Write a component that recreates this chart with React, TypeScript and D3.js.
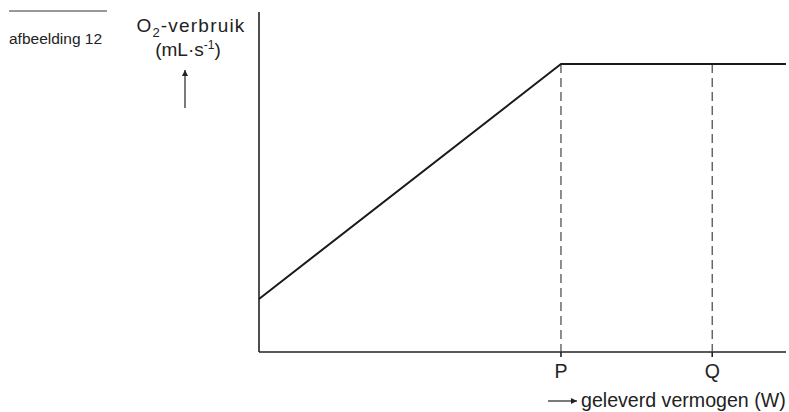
import React from 'react';
import * as d3 from 'd3';

// curve: O2 uptake rises linearly with power until P, then plateaus
const curveX = [0, 57.3, 100];
const curveY = [15.6, 84.7, 84.7];
const markerNames = ['P', 'Q'];
const markerX = [57.3, 86];

const W = 789;
const H = 412;
const margin = { top: 12, right: 3, bottom: 60, left: 259 };
const font = '"Liberation Sans", Arial, sans-serif';

export default function App() {
  const x = d3.scaleLinear().domain([0, 100]).range([margin.left, W - margin.right]);
  const y = d3.scaleLinear().domain([0, 100]).range([H - margin.bottom, margin.top]);
  const pts: [number, number][] = curveX.map((v, i) => [v, curveY[i]]);
  const line = d3
    .line<[number, number]>()
    .x((d) => x(d[0]))
    .y((d) => y(d[1]));
  const y0 = y(0);
  const plateau = y(curveY[1]);

  return (
    <svg
      width={W}
      height={H}
      style={{ position: 'absolute', left: 0, top: 0, display: 'block' }}
      fontFamily={font}
    >
      <defs>
        <marker id="ah" viewBox="0 0 10 10" refX="10" refY="5" markerWidth="9" markerHeight="6" orient="auto" markerUnits="userSpaceOnUse">
          <path d="M0,0 L10,5 L0,10 Z" fill="#222" />
        </marker>
      </defs>

      {/* caption */}
      <line x1={9} x2={107} y1={11} y2={11} stroke="#333" strokeWidth={1} />
      <text x={9} y={44} fontSize={15.5} fill="#222">afbeelding 12</text>

      {/* y label */}
      <text x={191} y={32} fontSize={19} textAnchor="middle" fill="#222" letterSpacing={1.2}>
        O<tspan fontSize={13} dy={5}>2</tspan>
        <tspan dy={-5}>-verbruik</tspan>
      </text>
      <text x={188} y={56} fontSize={19} textAnchor="middle" fill="#222">
        (mL·s<tspan fontSize={12} dy={-7}>-1</tspan>
        <tspan dy={7}>)</tspan>
      </text>
      <line x1={185} x2={185} y1={108} y2={70} stroke="#222" strokeWidth={1.2} markerEnd="url(#ah)" />

      {/* axes */}
      <line x1={x(0)} x2={x(0)} y1={y(100)} y2={y0} stroke="#222" strokeWidth={1.6} />
      <line x1={x(0)} x2={x(100)} y1={y0} y2={y0} stroke="#222" strokeWidth={1.6} />

      {/* markers */}
      {markerX.map((m, i) => (
        <g key={markerNames[i]}>
          <line x1={x(m)} x2={x(m)} y1={plateau} y2={y0} stroke="#444" strokeWidth={1.2} strokeDasharray="9,5" />
          <line x1={x(m)} x2={x(m)} y1={y0} y2={y0 + 5} stroke="#222" strokeWidth={1.6} />
          <text x={x(m)} y={y0 + 26} fontSize={19.5} textAnchor="middle" fill="#222">
            {markerNames[i]}
          </text>
        </g>
      ))}

      {/* curve */}
      <path d={line(pts) ?? ''} fill="none" stroke="#1a1a1a" strokeWidth={2} strokeLinejoin="round" />

      {/* x label */}
      <line x1={548} x2={577} y1={401} y2={401} stroke="#222" strokeWidth={1.2} markerEnd="url(#ah)" />
      <text x={581} y={407} fontSize={19.6} fill="#222">geleverd vermogen (W)</text>
    </svg>
  );
}
